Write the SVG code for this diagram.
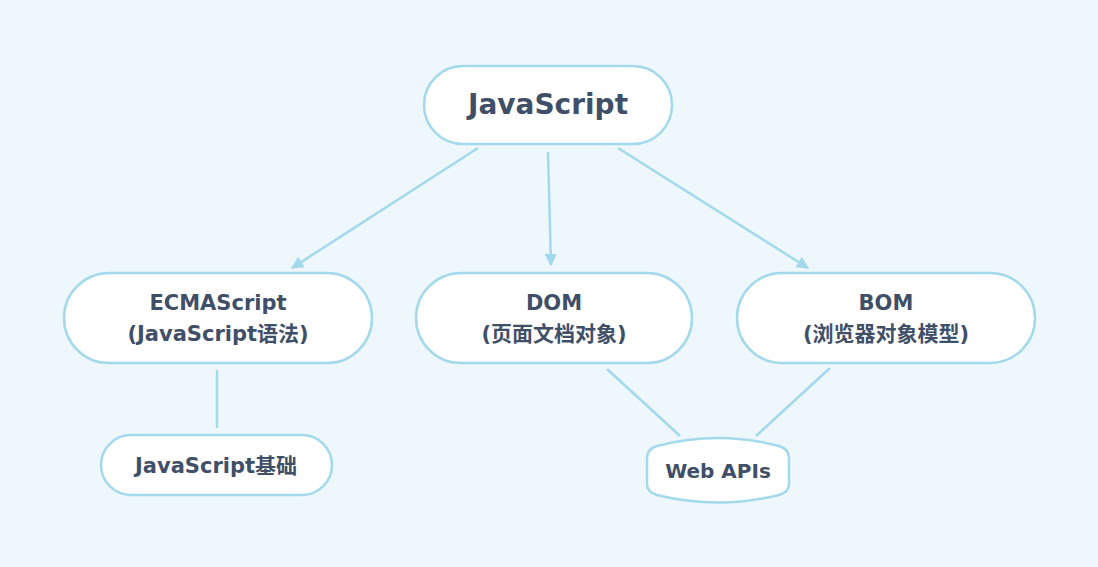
<svg xmlns="http://www.w3.org/2000/svg" width="1098" height="567" viewBox="0 0 1098 567">
<defs>
<style>
.box{fill:#ffffff;stroke:#a3d9ec;stroke-width:2.5}
.ln{stroke:#a3d9ec;stroke-width:2.5;fill:none}
.t{font-family:"DejaVu Sans","Noto Sans CJK SC",sans-serif;font-weight:bold;fill:#3f4f68;text-anchor:middle;font-size:21px}
.big{font-size:28px}
.sm{font-size:20px}
</style>
<marker id="ah" viewBox="0 0 10 10" refX="9" refY="5" markerWidth="5" markerHeight="5" orient="auto" markerUnits="strokeWidth">
<path d="M0,0 L10,5 L0,10 Z" fill="#a3d9ec"/>
</marker>
</defs>
<rect width="1098" height="567" fill="#eef7fb"/>
<g id="connectors">
<line class="ln" x1="478" y1="148" x2="292" y2="268" marker-end="url(#ah)"/>
<line class="ln" x1="548" y1="152" x2="551" y2="265" marker-end="url(#ah)"/>
<line class="ln" x1="618" y1="148" x2="808" y2="268" marker-end="url(#ah)"/>
<line class="ln" x1="217" y1="370" x2="217" y2="428"/>
<line class="ln" x1="607" y1="369" x2="680" y2="436"/>
<line class="ln" x1="830" y1="368" x2="756" y2="436"/>
</g>
<g id="javascript">
<rect class="box" x="424" y="66" width="248" height="78" rx="39"/>
<text class="t big" x="548" y="114">JavaScript</text>
</g>
<g id="ecmascript">
<rect class="box" x="64" y="273" width="308" height="90" rx="45"/>
<text class="t" x="218" y="310">ECMAScript</text>
<text class="t" x="218" y="341">(JavaScript语法)</text>
</g>
<g id="dom">
<rect class="box" x="416" y="273" width="276" height="90" rx="45"/>
<text class="t" x="554" y="310">DOM</text>
<text class="t" x="554" y="341">(页面文档对象)</text>
</g>
<g id="bom">
<rect class="box" x="737" y="273" width="298" height="90" rx="45"/>
<text class="t" x="886" y="310">BOM</text>
<text class="t" x="886" y="341">(浏览器对象模型)</text>
</g>
<g id="jsbasic">
<rect class="box" x="101" y="435" width="231" height="60" rx="30"/>
<text class="t" x="216" y="473">JavaScript基础</text>
</g>
<g id="webapis">
<path class="box" d="M657 446 Q718 430 779 446 Q789 449 789 458 L789 484 Q789 492 779 495 Q718 510 657 495 Q647 492 647 484 L647 458 Q647 449 657 446 Z"/>
<text class="t sm" x="718" y="478">Web APIs</text>
</g>
</svg>
